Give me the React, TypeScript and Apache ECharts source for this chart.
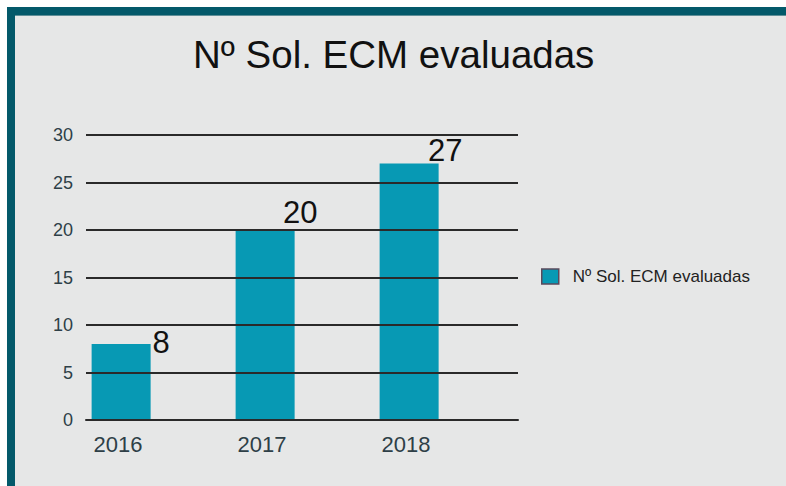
import React, { useEffect, useRef } from "react";
import * as echarts from "echarts";

const categories = ["2016", "2017", "2018"];
const seriesName = "Nº Sol. ECM evaluadas";
const values = [8, 20, 27];
const yTicks = { min: 0, max: 30, interval: 5 };
// label nudges (style only)
const labelOffsets = [
  [40, -2],
  [35, -18],
  [36, -13],
];

const FONT = "'Liberation Sans', Arial, sans-serif";

export default function App() {
  const ref = useRef<HTMLDivElement>(null);
  useEffect(() => {
    if (!ref.current) return;
    const chart = echarts.init(ref.current, null, { renderer: "svg" });
    chart.setOption({
      animation: false,
      backgroundColor: "#e6e7e7",
      textStyle: { fontFamily: FONT },
      title: {
        text: seriesName,
        left: 178,
        top: 19,
        padding: 0,
        textStyle: { fontFamily: FONT, fontSize: 38.5, fontWeight: "normal", color: "#111111" },
      },
      legend: {
        data: [seriesName],
        left: 521,
        top: 247,
        orient: "vertical",
        icon: "rect",
        itemWidth: 17,
        itemHeight: 15,
        itemStyle: { borderColor: "#5a4a5c", borderWidth: 1.5 },
        textStyle: { fontFamily: FONT, fontSize: 17, color: "#222222", padding: [0, 0, 0, 9] },
      },
      grid: { left: 71, right: 268, top: 119, bottom: 66 },
      xAxis: {
        type: "category",
        data: categories,
        z: 5,
        axisLine: { show: true, lineStyle: { color: "#2a2a2a", width: 2 } },
        axisTick: { show: false },
        axisLabel: {
          fontFamily: FONT,
          fontSize: 22,
          color: "#2e3f47",
          margin: 13,
          padding: [0, 80, 0, 0],
        },
      },
      yAxis: {
        type: "value",
        min: yTicks.min,
        max: yTicks.max,
        interval: yTicks.interval,
        z: 5,
        axisLine: { show: false },
        axisTick: { show: false },
        splitLine: { show: true, lineStyle: { color: "#2a2a2a", width: 2 } },
        axisLabel: { fontFamily: FONT, fontSize: 18, color: "#2e3f47", margin: 13 },
      },
      series: [
        {
          name: seriesName,
          type: "bar",
          barWidth: 59,
          barGap: "25%",
          itemStyle: { color: "#0799b4" },
          data: values.map((v, i) => ({
            value: v,
            label: { offset: labelOffsets[i] },
          })),
          label: {
            show: true,
            position: ["50%", 0],
            align: "center",
            verticalAlign: "middle",
            fontFamily: FONT,
            fontSize: 31,
            color: "#111111",
          },
        },
        {
          name: "_pad",
          type: "bar",
          barWidth: 59,
          data: categories.map(() => "-"),
        },
      ],
    });
    return () => chart.dispose();
  }, []);
  return (
    <div style={{ position: "fixed", left: 0, top: 0, width: 786, height: 486, background: "#ffffff" }}>
      <div style={{ position: "absolute", left: 7, top: 7, width: 779, height: 479, background: "#03596a" }} />
      <div style={{ position: "absolute", left: 15, top: 15, width: 771, height: 1, background: "#5f8f98" }} />
      <div ref={ref} style={{ position: "absolute", left: 15, top: 16, width: 771, height: 470 }} />
    </div>
  );
}
